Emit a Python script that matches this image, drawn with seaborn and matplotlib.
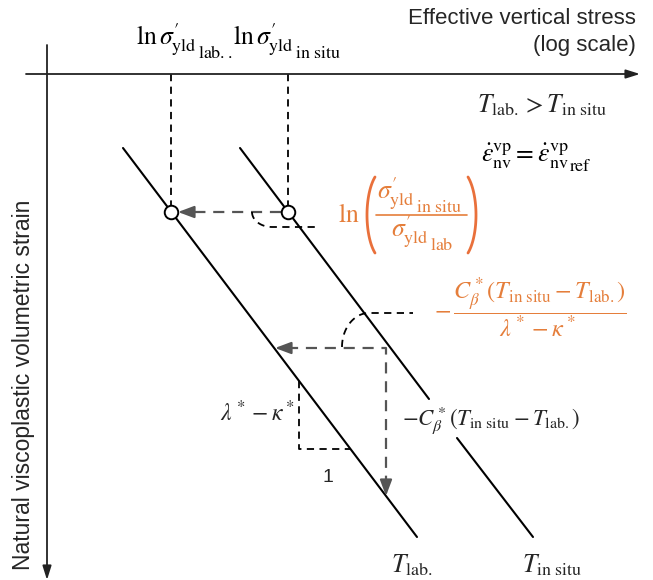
import numpy as np
import pandas as pd
import matplotlib
matplotlib.use("Agg")
import matplotlib.pyplot as plt
import seaborn as sns

# ---- schematic geometry (diagram units: x = log stress, y = strain, downwards) ----
# normal compression lines for the two temperatures (segment endpoints)
ncl_segment = ["lab", "lab", "situ_a", "situ_a", "situ_b", "situ_b"]
ncl_x = [123, 417, 240, 429, 457, 533]
ncl_y = [148, 537, 148, 399, 438, 537]

# yield points on each line
yield_x = [171, 288]
yield_y = [212, 212]

# stress axis / strain axis
stress_axis_y = 74
strain_axis_x = 47

# temperature shift path (horizontal then vertical) and slope triangle
shift_corner = (386, 348)
shift_left_tip = (275, 348)
shift_down_tip = (386, 496)
slope_x = [299, 299, 350]
slope_y = [381, 449, 449]

ORANGE = "#E57E3B"
PAREN = "#E9703B"
GRAY = "#555555"

sns.set_theme(style="white")
plt.rcParams["font.family"] = ["Liberation Sans", "DejaVu Sans"]
plt.rcParams["mathtext.fontset"] = "stix"

W, H = 653, 580
fig = plt.figure(figsize=(W / 100, H / 100), dpi=100)
ax = fig.add_axes([0, 0, 1, 1])

# axes arrows
ax.annotate("", xy=(640, stress_axis_y), xytext=(26, stress_axis_y),
            arrowprops=dict(arrowstyle="-|>,head_length=0.7,head_width=0.22",
                            lw=1.3, color="#222222", shrinkA=0, shrinkB=0))
ax.annotate("", xy=(strain_axis_x, 580), xytext=(strain_axis_x, 45),
            arrowprops=dict(arrowstyle="-|>,head_length=0.7,head_width=0.22",
                            lw=1.3, color="#222222", shrinkA=0, shrinkB=0))

# compression lines
ncl = pd.DataFrame({"x": ncl_x, "y": ncl_y, "segment": ncl_segment})
sns.lineplot(data=ncl, x="x", y="y", units="segment", estimator=None, sort=False,
             color="black", lw=1.5, ax=ax, legend=False)

# vertical projections of the yield points onto the stress axis
for xv, yv in zip(yield_x, yield_y):
    ax.plot([xv, xv], [stress_axis_y, yv - 6.5], color="black", lw=1.3,
            ls=(0, (4, 3)))

# yield-stress shift arrow between the two circles
ax.plot([yield_x[1] - 7, yield_x[0] + 16], [yield_y[1], yield_y[0]],
        color=GRAY, lw=1.6, ls=(0, (5, 3.5)))
ax.annotate("", xy=(yield_x[0] + 7, yield_y[0]), xytext=(yield_x[0] + 18, yield_y[0]),
            arrowprops=dict(arrowstyle="-|>,head_length=0.8,head_width=0.3",
                            color=GRAY, lw=1.6, shrinkA=0, shrinkB=0))

# open circles at the yield points
sns.scatterplot(x=yield_x, y=yield_y, s=95, color="white", edgecolor="black",
                linewidth=1.4, zorder=5, ax=ax, legend=False)

# temperature shift path
cx, cy = shift_corner
ax.plot([shift_left_tip[0] + 12, cx, cx], [cy, cy, shift_down_tip[1] - 12],
        color=GRAY, lw=1.6, ls=(0, (5, 3.5)))
ax.annotate("", xy=shift_left_tip, xytext=(shift_left_tip[0] + 14, cy),
            arrowprops=dict(arrowstyle="-|>,head_length=0.8,head_width=0.3",
                            color=GRAY, lw=1.6, shrinkA=0, shrinkB=0))
ax.annotate("", xy=shift_down_tip, xytext=(cx, shift_down_tip[1] - 14),
            arrowprops=dict(arrowstyle="-|>,head_length=0.8,head_width=0.3",
                            color=GRAY, lw=1.6, shrinkA=0, shrinkB=0))

# slope triangle
ax.plot(slope_x, slope_y, color="black", lw=1.3, ls=(0, (4, 3)))

# leader lines to the orange annotations
t1 = np.linspace(np.pi, np.pi / 2, 30)
lx1 = np.r_[272 + 20 * np.cos(t1), 320]
ly1 = np.r_[212 + 15 * np.sin(t1), 227]
ax.plot(lx1, ly1, color="black", lw=1.3, ls=(0, (4, 3)))
t2 = np.linspace(np.pi, 1.5 * np.pi, 30)
lx2 = np.r_[369 + 27 * np.cos(t2), 413]
ly2 = np.r_[347 + 34 * np.sin(t2), 313]
ax.plot(lx2, ly2, color="black", lw=1.3, ls=(0, (4, 3)))


# ---- text ----
def label_with_subsub(x, y, base, sub, size, color="black"):
    """Math label whose last subscript carries a second-level subscript
    at the same (first-level) size."""
    t = ax.text(x, y, base, ha="left", va="baseline", fontsize=size, color=color)
    ax.annotate(sub, xy=(1.0, 0.0), xycoords=t, xytext=(0.6, 3.5),
                textcoords="offset points", ha="left", va="center",
                fontsize=size * 0.7, color=color)
    return t


ax.text(636, 18, "Effective vertical stress", ha="right", va="center", fontsize=16)
ax.text(636, 46, "(log scale)", ha="right", va="center", fontsize=16)
ax.text(24, 385, "Natural viscoplastic volumetric strain", rotation=90,
        ha="center", va="center", fontsize=16.5)

MS = 18.5
SIG = r"$\sigma^{\prime}_{\mathrm{yld}}$"
LNSIG = r"$\ln\sigma^{\prime}_{\mathrm{yld}}$"

label_with_subsub(136, 45, LNSIG, r"$\mathrm{lab..}$", MS)
label_with_subsub(233, 45, LNSIG, r"$\mathrm{in\ situ}$", MS)

ax.text(477, 112, r"$T_{\mathrm{lab.}} > T_{\mathrm{in\ situ}}$", ha="left",
        va="baseline", fontsize=MS)
label_with_subsub(481, 162,
                  r"$\dot{\varepsilon}^{\mathrm{vp}}_{\mathrm{nv}} = \dot{\varepsilon}^{\mathrm{vp}}_{\mathrm{nv}}$",
                  r"$\mathrm{ref}$", MS)

# ln( sigma_in situ / sigma_lab ) in orange
ax.text(338, 222, r"$\ln$", ha="left", va="baseline", fontsize=MS, color=ORANGE)
label_with_subsub(377, 199, SIG, r"$\mathrm{in\ situ}$", MS, ORANGE)
label_with_subsub(391, 237, SIG, r"$\mathrm{lab}$", MS, ORANGE)
ax.plot([376, 467], [215, 215], color=ORANGE, lw=1.2)
tp = np.linspace(-1.0, 1.0, 40)
py = 215 + 38 * np.sin(tp) / np.sin(1.0)
bulge = 8 * (1 - np.cos(tp)) / (1 - np.cos(1.0))
ax.plot(367 + bulge, py, color=PAREN, lw=2.0, solid_capstyle="round")
ax.plot(476 - bulge, py, color=PAREN, lw=2.0, solid_capstyle="round")

ax.text(434, 308,
        r"$-\,\dfrac{C^*_\beta(T_{\mathrm{in\ situ}} - T_{\mathrm{lab.}})}{\lambda^* - \kappa^*}$",
        ha="left", va="center", fontsize=17.5, color=ORANGE)
ax.text(402, 420, r"$-C^*_\beta(T_{\mathrm{in\ situ}} - T_{\mathrm{lab.}})$",
        ha="left", va="center", fontsize=16.5)
ax.text(257, 413, r"$\lambda^* - \kappa^*$", ha="center", va="center", fontsize=17)
ax.text(328, 477, "1", ha="center", va="center", fontsize=14)
ax.text(391, 572, r"$T_{\mathrm{lab.}}$", ha="left", va="baseline", fontsize=MS)
ax.text(522, 572, r"$T_{\mathrm{in\ situ}}$", ha="left", va="baseline", fontsize=MS)

ax.set_xlim(0, W)
ax.set_ylim(H, 0)
ax.axis("off")

fig.savefig("out.png", dpi=100, facecolor="white")
